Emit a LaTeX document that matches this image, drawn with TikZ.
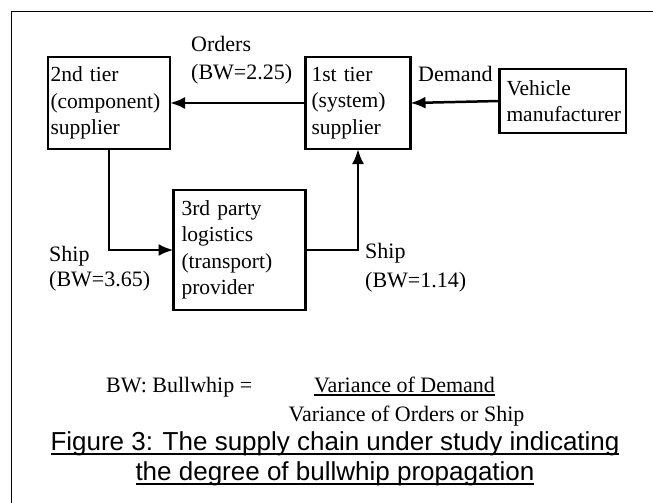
\documentclass[tikz,border=0pt]{standalone}
\usepackage{fontspec}
\setmainfont{Liberation Serif}
\newfontfamily\capfont{Liberation Sans}
\usetikzlibrary{arrows.meta}
\newsavebox\ulbox
\newcommand{\ulined}[3]{\sbox\ulbox{#3}\leavevmode\rlap{\rule[-#1]{\wd\ulbox}{#2}}\usebox\ulbox}
\tikzset{
  tierbox/.style={draw,line width=2.5pt,outer sep=0pt,inner ysep=0pt,align=left,
    anchor=north west,font=\fontsize{21.5}{26.5}\selectfont},
  flow/.style={-{Latex[length=15pt,width=12pt]},line width=2.5pt},
  lbl/.style={inner sep=0pt,align=left,font=\fontsize{22}{26.5}\selectfont},
}
\begin{document}
\begin{tikzpicture}[x=1pt,y=-1pt]
  \useasboundingbox (0,0) rectangle (653,503);
  \draw[line width=1.8pt] (11.5,503) -- (11.5,11.5) -- (653,11.5);
  % the four parties
  \node[tierbox,minimum width=122pt,minimum height=92pt,inner xsep=2.5pt,text width=117pt]
    (sup2) at (48,57) {2nd tier\\(component)\\supplier};
  \node[tierbox,minimum width=105pt,minimum height=92pt,inner xsep=6pt,text width=93pt]
    (sup1) at (305.5,57) {1st tier\\(system)\\supplier};
  \node[tierbox,minimum width=126.5pt,minimum height=64pt,inner xsep=7pt,text width=112.5pt]
    (oem) at (499.5,69) {Vehicle\\manufacturer};
  \node[tierbox,minimum width=132pt,minimum height=120pt,inner xsep=8pt,text width=116pt]
    (lsp) at (173.5,190) {3rd party\\logistics\\(transport)\\provider};
  % flows
  \draw[flow] (sup1.west) -- (sup2.east);
  \draw[flow] (oem.west) -- (sup1.east);
  \draw[flow] (sup2.south) |- (lsp.west);
  \draw[flow] (lsp.east) -| (sup1.south);
  \node[lbl,anchor=north west] (ordlbl) at (191,36) {Orders\\[2pt](BW=2.25)};
  \node[lbl,anchor=base west] (demlbl) at (418,81.7) {Demand};
  \node[lbl,anchor=north west] (shiplbla) at (49,246) {Ship\\[-1.5pt](BW=3.65)};
  \node[lbl,anchor=north west] (shiplblb) at (365,242.6) {Ship\\[2.5pt](BW=1.14)};
  % bullwhip ratio
  \node[lbl,anchor=base west] (bwdef) at (106,392.5) {BW: Bullwhip =};
  \node[lbl,anchor=base] (num) at (404.5,392.5) {\ulined{3pt}{1.5pt}{Variance of Demand}};
  \node[lbl,anchor=base] (den) at (406.5,421) {Variance of Orders or Ship};
  % caption
  \node[inner sep=0pt,anchor=base,font=\capfont\fontsize{26}{30}\selectfont] (capa) at (335,450)
    {\ulined{5pt}{2.2pt}{Figure 3: The supply chain under study indicating}};
  \node[inner sep=0pt,anchor=base,font=\capfont\fontsize{26}{30}\selectfont] (capb) at (335,480)
    {\ulined{5pt}{2.2pt}{the degree of bullwhip propagation}};
\end{tikzpicture}
\end{document}
